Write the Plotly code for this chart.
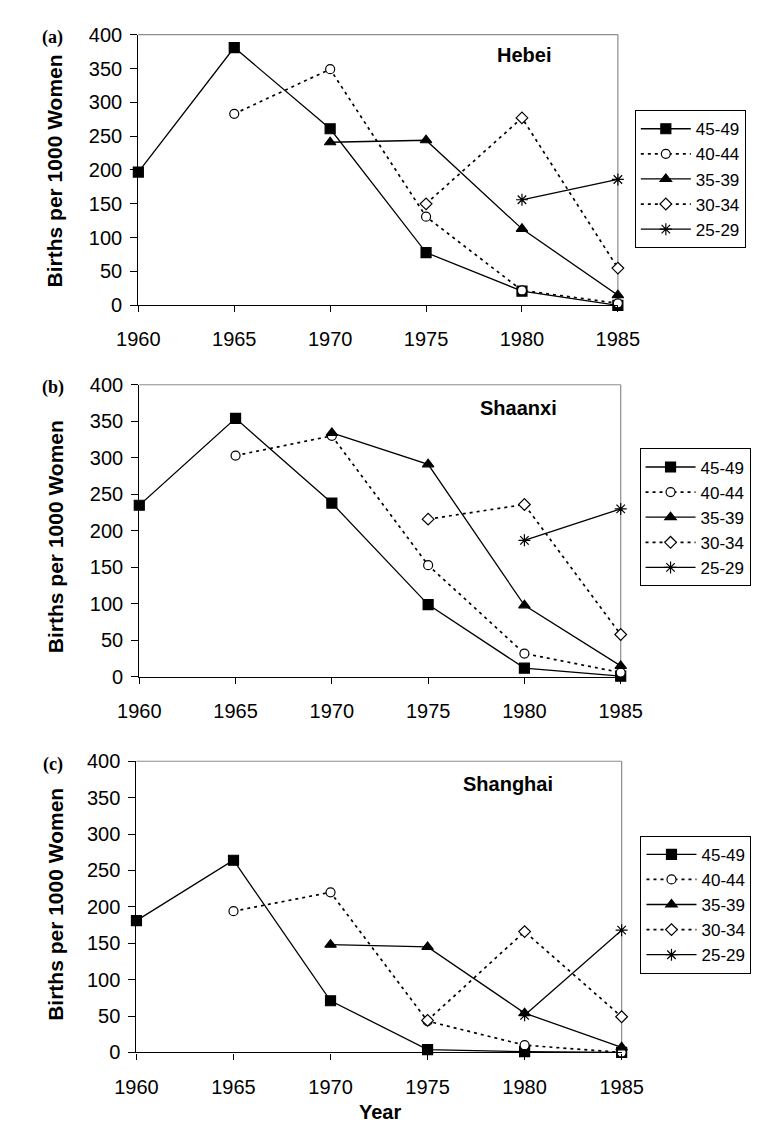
import plotly.graph_objects as go

W, H = 760, 1128

years = [1960, 1965, 1970, 1975, 1980, 1985]
age_groups = ["45-49", "40-44", "35-39", "30-34", "25-29"]
y_ticks = [0, 50, 100, 150, 200, 250, 300, 350, 400]

# Births per 1000 women, by cohort (age group) and year
hebei_45_49 = [197, 381, 261, 78, 21, 0]
hebei_40_44 = [None, 283, 349, 131, 22, 3]
hebei_35_39 = [None, None, 241, 244, 113, 15]
hebei_30_34 = [None, None, None, 150, 277, 55]
hebei_25_29 = [None, None, None, None, 156, 186]

shaanxi_45_49 = [235, 354, 238, 99, 12, 1]
shaanxi_40_44 = [None, 303, 330, 153, 32, 6]
shaanxi_35_39 = [None, None, 334, 291, 98, 15]
shaanxi_30_34 = [None, None, None, 216, 236, 58]
shaanxi_25_29 = [None, None, None, None, 187, 230]

shanghai_45_49 = [181, 264, 71, 4, 1, 0]
shanghai_40_44 = [None, 194, 220, 43, 10, 0]
shanghai_35_39 = [None, None, 148, 145, 54, 7]
shanghai_30_34 = [None, None, None, 44, 166, 49]
shanghai_25_29 = [None, None, None, None, 51, 168]

provinces = ["Hebei", "Shaanxi", "Shanghai"]
panel_tags = ["(a)", "(b)", "(c)"]
series = [
    [hebei_45_49, hebei_40_44, hebei_35_39, hebei_30_34, hebei_25_29],
    [shaanxi_45_49, shaanxi_40_44, shaanxi_35_39, shaanxi_30_34, shaanxi_25_29],
    [shanghai_45_49, shanghai_40_44, shanghai_35_39, shanghai_30_34, shanghai_25_29],
]

# ---- styling (pixels) ----
panels_px = [  # (x0, x1, ytop, ybottom)
    (115, 624, 16, 292),
    (116, 627, 373, 671),
    (113, 628, 757, 1054),
]
legends_px = [(642, 93), (647, 438), (648, 833)]
title_px = [(524, 37), (518, 397), (507, 780)]
ytitle_center_px = [155, 528, 903]

styles = [
    dict(symbol="square", size=10, dash="solid", width=1.3),
    dict(symbol="circle-open", size=9, dash="3px,4px", width=1.7),
    dict(symbol="triangle-up", size=10, dash="solid", width=1.3),
    dict(symbol="diamond-open", size=9, dash="3px,4px", width=1.7),
    dict(symbol="asterisk-open", size=10, dash="solid", width=1.3),
]

FONT = "Liberation Sans, Arial, sans-serif"


def px_x(x):
    return x / W


def px_y(y):
    return 1 - y / H


fig = go.Figure()

for p in range(3):
    xa = "x" if p == 0 else f"x{p+1}"
    ya = "y" if p == 0 else f"y{p+1}"
    lg = "legend" if p == 0 else f"legend{p+1}"
    for k, name in enumerate(age_groups):
        st = styles[k]
        if st["symbol"] in ("circle-open", "diamond-open"):
            marker = dict(symbol=st["symbol"].replace("-open", ""), size=st["size"],
                          color="white", line=dict(color="black", width=1.2))
        else:
            marker = dict(symbol=st["symbol"], size=st["size"], color="black",
                          line=dict(color="black", width=1.2))
        fig.add_trace(go.Scatter(
            x=years, y=series[p][k], name=name, mode="lines+markers",
            xaxis=xa, yaxis=ya, legend=lg, cliponaxis=False,
            connectgaps=False,
            line=dict(color="black", width=st["width"], dash=st["dash"]),
            marker=marker,
        ))

layout = dict(
    width=W, height=H, paper_bgcolor="white", plot_bgcolor="white",
    margin=dict(l=0, r=0, t=0, b=0), showlegend=True,
    font=dict(family=FONT, color="black", size=20),
)

annotations = []
shapes = []
for p in range(3):
    x0, x1, yt, yb = panels_px[p]
    sx = "" if p == 0 else str(p + 1)
    layout[f"xaxis{sx}"] = dict(
        domain=[px_x(x0), px_x(x1)], anchor=f"y{sx}", range=[1960, 1985],
        tickvals=years, ticktext=[str(v) for v in years],
        ticks="outside", ticklen=6, tickcolor="black", tickwidth=1,
        showline=True, linecolor="black", linewidth=1.2, showgrid=False,
        zeroline=False, tickfont=dict(size=20, family=FONT),
        ticklabelstandoff=10,
    )
    layout[f"yaxis{sx}"] = dict(
        domain=[px_y(yb), px_y(yt)], anchor=f"x{sx}", range=[0, 400],
        tickvals=y_ticks, ticks="outside", ticklen=7, tickcolor="black",
        showline=True, linecolor="black", linewidth=1.2, showgrid=False,
        zeroline=False, tickfont=dict(size=20, family=FONT),
        ticklabelstandoff=4,
    )
    # gray frame (top and right)
    shapes.append(dict(type="line", xref="paper", yref="paper",
                       x0=px_x(x0), x1=px_x(x1), y0=px_y(yt), y1=px_y(yt),
                       line=dict(color="#8c8c8c", width=1.2), layer="below"))
    shapes.append(dict(type="line", xref="paper", yref="paper",
                       x0=px_x(x1), x1=px_x(x1), y0=px_y(yt), y1=px_y(yb),
                       line=dict(color="#8c8c8c", width=1.2), layer="below"))
    lx, ly = legends_px[p]
    lname = "legend" if p == 0 else f"legend{p+1}"
    layout[lname] = dict(
        x=px_x(lx), y=px_y(ly), xanchor="left", yanchor="top",
        xref="paper", yref="paper",
        bordercolor="black", borderwidth=1, bgcolor="white",
        font=dict(size=17, family=FONT), itemwidth=50,
        tracegroupgap=0,
    )
    tx, ty = title_px[p]
    annotations.append(dict(text=f"<b>{provinces[p]}</b>", x=px_x(tx), y=px_y(ty),
                            xref="paper", yref="paper", showarrow=False,
                            xanchor="center", yanchor="middle",
                            font=dict(size=20, family=FONT)))
    annotations.append(dict(text="<b>Births per 1000 Women</b>", textangle=-90,
                            x=px_x(27), y=px_y(ytitle_center_px[p]),
                            xref="paper", yref="paper", showarrow=False,
                            xanchor="center", yanchor="middle",
                            font=dict(size=21, family=FONT)))
    annotations.append(dict(text=f"<b>{panel_tags[p]}</b>", x=px_x(24), y=px_y(yt + 3),
                            xref="paper", yref="paper", showarrow=False,
                            xanchor="center", yanchor="middle",
                            font=dict(size=18, family="Liberation Serif, Times New Roman, serif")))

annotations.append(dict(text="<b>Year</b>", x=px_x(371), y=px_y(1115),
                        xref="paper", yref="paper", showarrow=False,
                        xanchor="center", yanchor="middle",
                        font=dict(size=20, family=FONT)))

layout["annotations"] = annotations
layout["shapes"] = shapes
fig.update_layout(**layout)

fig.write_html("out.html")
